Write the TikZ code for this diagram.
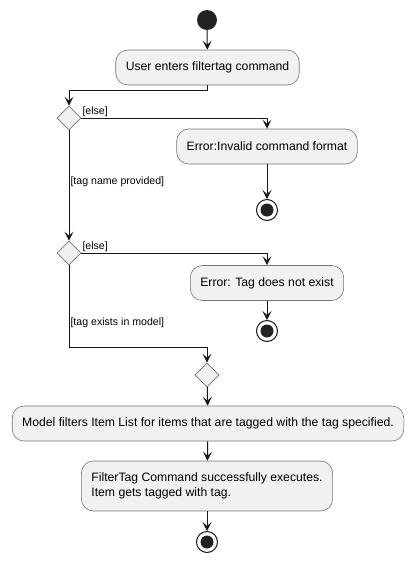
\documentclass[tikz,border=0pt]{standalone}
\usepackage{fontspec}
\setmainfont{Liberation Sans}
\usepackage{tikz}
\usetikzlibrary{shapes.geometric, arrows.meta}

\definecolor{boxfill}{HTML}{F1F1F1}
\definecolor{ink}{HTML}{181818}
\definecolor{dot}{HTML}{222222}

\begin{document}
\begin{tikzpicture}[x=1pt, y=-1pt,
    act/.style={rectangle, rounded corners=12pt, draw=ink!60, line width=0.6pt, fill=boxfill,
      minimum height=35pt, inner xsep=10pt, font=\fontsize{12.2}{15}\selectfont, align=left},
    choice/.style={diamond, draw=ink!60, line width=0.6pt, fill=boxfill, inner sep=0pt,
      minimum width=24pt, minimum height=24pt},
    startnode/.style={circle, fill=dot, inner sep=0pt, minimum size=20pt},
    stopnode/.style={circle, draw=ink, line width=1pt, fill=white, inner sep=0pt, minimum size=21pt,
      path picture={\fill[dot] (path picture bounding box.center) circle (6.5pt);}},
    guard/.style={font=\fontsize{10.6}{12}\selectfont, inner sep=1pt},
    arr/.style={draw=ink, line width=1pt, -{Stealth[length=9pt, width=9pt, inset=4pt]}}]
      \useasboundingbox (0,0) rectangle (414,563);

      \path
      (207,20) node[startnode](start){}
      (207.5,67.5) node[act](enter){User enters filtertag command}
      (69,118) node[choice](d1){}
      (267,146.5) node[act](err1){Error:Invalid command format}
      (267,210) node[stopnode](stop1){};
      \draw[arr] (start) -- (enter);
      \draw[arr] (enter.south) -- ++(0,5) -| (d1.north);
      \draw[arr] (d1.east) -| (err1.north);
      \draw[arr] (err1) -- (stop1);
      \path (d1.east) node[guard, anchor=south west]{[else]};

      \path
      (69,253) node[choice](d2){}
      (267,283) node[act](err2){Error: Tag does not exist}
      (267,331) node[stopnode](stop2){};
      \draw[arr] (d1.south) -- node[guard, anchor=west, pos=0.47]{[tag name provided]} (d2.north);
      \draw[arr] (d2.east) -| (err2.north);
      \draw[arr] (err2) -- (stop2);
      \path (d2.east) node[guard, anchor=south west]{[else]};

      \path
      (207,375) node[choice](d3){}
      (208,423.5) node[act](filter){Model filters Item List for items that are tagged with the tag specified.}
      (207,486) node[act, minimum height=50pt](done){FilterTag Command successfully executes.\\Item gets tagged with tag.}
      (207,542) node[stopnode](stop3){};
      \draw[arr] (d2.south) -- node[guard, anchor=west, pos=0.7]{[tag exists in model]} (d2.south |- 0,347) -| (d3.north);
      \draw[arr] (d3) -- (filter);
      \draw[arr] (filter) -- (done);
      \draw[arr] (done) -- (stop3);
    \end{tikzpicture}
\end{document}
